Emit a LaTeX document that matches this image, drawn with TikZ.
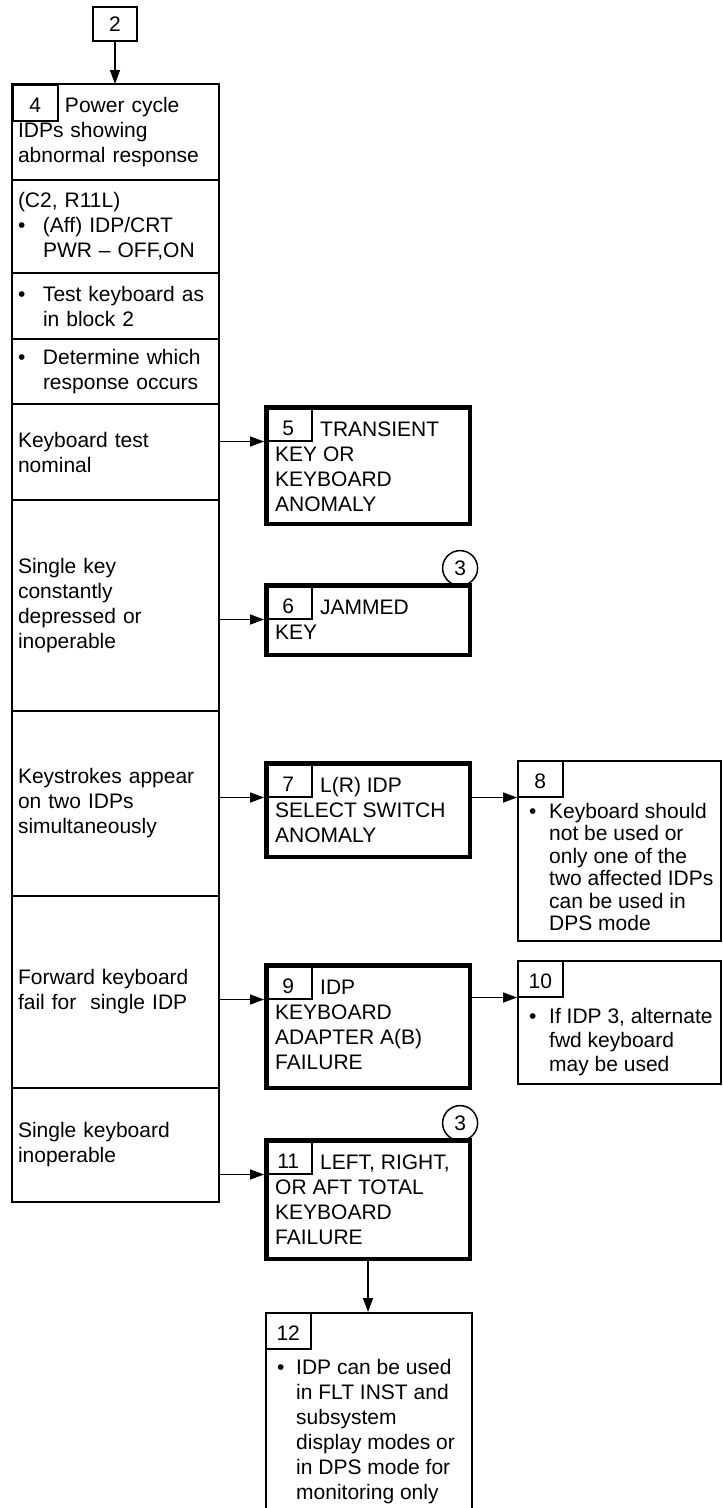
\documentclass[tikz,border=0pt]{standalone}
\usepackage{fontspec}
\setmainfont{Liberation Sans}
\usetikzlibrary{arrows.meta,positioning}
\newcommand{\Bul}[1][25pt]{\makebox[#1][l]{\textbullet}}
\newcommand{\Hang}[1][25pt]{\hspace*{#1}}

\begin{document}
\begin{tikzpicture}[x=1pt,y=-1pt,
  every node/.style={font=\fontsize{21}{25}\selectfont},
  cell/.style={draw,line width=2pt,outer sep=0pt,inner xsep=6pt,inner ysep=0pt,
    minimum width=207pt,text width=195pt,align=left},
  result/.style={draw,line width=4.5pt,anchor=north west,inner sep=0pt,minimum width=203.5pt},
  note/.style={draw,line width=2pt,anchor=north west,inner sep=0pt,minimum width=203pt},
  numbox/.style={draw,line width=1.5pt,anchor=north west,inner sep=0pt,
    minimum width=45pt,minimum height=36pt,text height=19pt,text depth=0pt},
  thicknum/.style={numbox,minimum width=47pt,minimum height=35pt,text height=25pt},
  boxtext/.style={anchor=north west,inner sep=0pt,align=left},
  notetext/.style={boxtext,font=\fontsize{21}{22.5}\selectfont},
  mark3/.style={draw,circle,line width=1.5pt,inner sep=0pt,minimum size=35pt,anchor=south east},
  conn/.style={line width=1.5pt,-{Triangle[length=14pt,width=10pt]}}]
\useasboundingbox (0,0) rectangle (723,1508);

\node[note,minimum width=44pt,minimum height=34pt] (b2) at (92,6) {2};

% left column of checks and responses
\node[cell,anchor=north west,minimum height=96pt] (c4) at (12,84) {\Hang[47pt]Power cycle\\IDPs showing\\abnormal response};
\node[numbox] (n4) at (c4.north west) {4};
\node[cell,below=0pt of c4,minimum height=93pt] (cpwr) {(C2, R11L)\\\Bul(Aff) IDP/CRT\\\Hang PWR -- OFF,ON};
\node[cell,below=0pt of cpwr,minimum height=66pt] (ctest) {\Bul Test keyboard as\\\Hang in block 2};
\node[cell,below=0pt of ctest,minimum height=65pt] (cdet) {\Bul Determine which\\\Hang response occurs};
\node[cell,below=0pt of cdet,minimum height=96pt] (cnom) {Keyboard test\\nominal};
\node[cell,below=0pt of cnom,minimum height=211pt] (ckey) {Single key\\constantly\\depressed or\\inoperable};
\node[cell,below=0pt of ckey,minimum height=185pt] (cstroke) {Keystrokes appear\\on two IDPs\\simultaneously};
\node[cell,below=0pt of cstroke,minimum height=192pt] (cfwd) {Forward keyboard\\fail for~ single IDP};
\node[cell,below=0pt of cfwd,minimum height=114pt] (csingle) {Single keyboard\\inoperable};

% failure blocks
\node[result,minimum height=116.5pt] (b5) at (264,405) {};
\node[thicknum] (n5) at (b5.north west) {5};
\node[boxtext] (t5) at ([xshift=11pt,yshift=23pt]n5.south west) {\strut\Hang[45pt]TRANSIENT\\KEY OR\\KEYBOARD\\ANOMALY};

\node[result,minimum height=69.5pt] (b6) at (264,583) {};
\node[thicknum] (n6) at (b6.north west) {6};
\node[boxtext] (t6) at ([xshift=11pt,yshift=23pt]n6.south west) {\strut\Hang[45pt]JAMMED\\KEY};
\node[mark3] (k6) at ([xshift=1pt,yshift=2pt]b6.north east) {3};

\node[result,minimum height=93.5pt] (b7) at (264,761) {};
\node[thicknum] (n7) at (b7.north west) {7};
\node[boxtext] (t7) at ([xshift=11pt,yshift=23pt]n7.south west) {\strut\Hang[45pt]L(R) IDP\\SELECT SWITCH\\ANOMALY};

\node[result,minimum height=122.5pt] (b9) at (264,963) {};
\node[thicknum] (n9) at (b9.north west) {9};
\node[boxtext] (t9) at ([xshift=11pt,yshift=23pt]n9.south west) {\strut\Hang[45pt]IDP\\KEYBOARD\\ADAPTER A(B)\\FAILURE};

\node[result,minimum height=118.5pt] (b11) at (264,1138) {};
\node[thicknum] (n11) at (b11.north west) {11};
\node[boxtext] (t11) at ([xshift=11pt,yshift=23pt]n11.south west) {\strut\Hang[45pt]LEFT, RIGHT,\\OR AFT TOTAL\\KEYBOARD\\FAILURE};
\node[mark3] (k11) at ([xshift=1pt,yshift=2pt]b11.north east) {3};

% notes
\node[note,minimum height=180pt] (b8) at (517,760) {};
\node[numbox] (n8) at (b8.north west) {8};
\node[notetext] (t8) at ([xshift=12pt,yshift=-5pt]n8.south west) {\strut\Bul[20pt]Keyboard should\\\Hang[20pt]not be used or\\\Hang[20pt]only one of the\\\Hang[20pt]two affected IDPs\\\Hang[20pt]can be used in\\\Hang[20pt]DPS mode};

\node[note,minimum height=123pt] (b10) at (517,960) {};
\node[numbox] (n10) at (b10.north west) {10};
\node[notetext,font=\fontsize{21}{24}\selectfont] (t10) at ([xshift=12pt,yshift=-9pt]n10.south west) {\strut\Bul[20pt]If IDP 3, alternate\\\Hang[20pt]fwd keyboard\\\Hang[20pt]may be used};

\node[note,minimum width=206pt,minimum height=208pt] (b12) at (265,1312) {};
\node[numbox] (n12) at (b12.north west) {12};
\node[boxtext] (t12) at ([xshift=12pt,yshift=-7pt]n12.south west) {\strut\Bul[19pt]IDP can be used\\\Hang[19pt]in FLT INST and\\\Hang[19pt]subsystem\\\Hang[19pt]display modes or\\\Hang[19pt]in DPS mode for\\\Hang[19pt]monitoring only};

\draw[conn] (b2.south) -- (b2.south |- c4.north);
\draw[conn] (cnom.east |- n5.south) -- (b5.west |- n5.south);
\draw[conn] (ckey.east |- n6.south) -- (b6.west |- n6.south);
\draw[conn] (cstroke.east |- n7.south) -- (b7.west |- n7.south);
\draw[conn] (cfwd.east |- n9.south) -- (b9.west |- n9.south);
\draw[conn] (csingle.east |- n11.south) -- (b11.west |- n11.south);
\draw[conn] (b7.east |- n8.south) -- (b8.west |- n8.south);
\draw[conn] (b9.east |- n10.south) -- (b10.west |- n10.south);
\draw[conn] (b11.south) -- (b11.south |- b12.north);

\end{tikzpicture}
\end{document}
